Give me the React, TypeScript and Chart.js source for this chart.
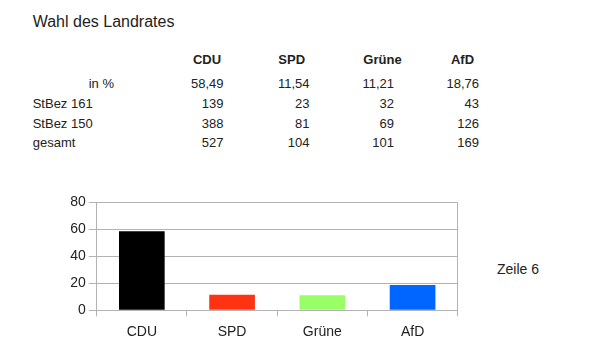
import React, { useEffect, useRef } from "react";
import { Chart, registerables } from "chart.js";

Chart.register(...registerables);

const title = "Wahl des Landrates";
const categories = ["CDU", "SPD", "Grüne", "AfD"];
const percentValues = [58.49, 11.54, 11.21, 18.76];
const rowLabels = ["in %", "StBez 161", "StBez 150", "gesamt"];
const stbez161 = [139, 23, 32, 43];
const stbez150 = [388, 81, 69, 126];
const gesamt = [527, 104, 101, 169];
const barColors = ["#000000", "#ff3311", "#99ff66", "#0066ff"];
const seriesLabel = "Zeile 6";
const yMin = 0;
const yMax = 80;
const yStep = 20;

const FONT = '"Liberation Sans", Arial, sans-serif';
const TEXT = "#222222";
const GRID = "#b3b3b3";

// layout of the table (pixel positions, not data)
const colRight = [223.5, 309.5, 394, 479];
const headerCenter = [207, 291.7, 382.5, 462.5];
const rowTop = [76.5, 96.5, 116.5, 136];

const fmtPct = (v: number) => v.toFixed(2).replace(".", ",");

function T(props: { x: number; y: number; size: number; bold?: boolean; align?: "left" | "right" | "center"; children: React.ReactNode }) {
  const { x, y, size, bold, align = "left", children } = props;
  const w = 200;
  const left = align === "left" ? x : align === "right" ? x - w : x - w / 2;
  return (
    <div
      style={{
        position: "absolute",
        left,
        top: y,
        width: w,
        textAlign: align,
        fontFamily: FONT,
        fontSize: size,
        lineHeight: 1,
        fontWeight: bold ? "bold" : "normal",
        color: TEXT,
        whiteSpace: "nowrap",
      }}
    >
      {children}
    </div>
  );
}

export default function App() {
  const ref = useRef<HTMLCanvasElement | null>(null);

  useEffect(() => {
    if (!ref.current) return;
    const chart = new Chart(ref.current, {
      type: "bar",
      data: {
        labels: categories,
        datasets: [
          {
            label: seriesLabel,
            data: percentValues,
            backgroundColor: barColors,
            borderWidth: 0,
            barPercentage: 0.506,
            categoryPercentage: 1.0,
          },
        ],
      },
      options: {
        responsive: false,
        maintainAspectRatio: false,
        animation: false,
        layout: { padding: { top: 12.3, right: 12.3, left: 0, bottom: 0 } },
        plugins: { legend: { display: false }, tooltip: { enabled: false } },
        scales: {
          x: {
            offset: true,
            grid: {
              offset: true,
              drawOnChartArea: true,
              color: (c: any) => (c.index === undefined || c.index === 0 ? GRID : "rgba(0,0,0,0)"),
              tickColor: GRID,
              tickLength: 6,
            },
            border: { color: GRID },
            ticks: { color: TEXT, font: { family: FONT, size: 14 }, padding: 7 },
            afterFit: (s: any) => {
              s.height = 39.7;
            },
          },
          y: {
            min: yMin,
            max: yMax,
            ticks: { stepSize: yStep, color: TEXT, font: { family: FONT, size: 14 }, padding: 3 },
            grid: { color: GRID, tickLength: 8 },
            border: { color: GRID },
            afterFit: (s: any) => {
              s.width = 56.7;
            },
          },
        },
      },
    });
    return () => chart.destroy();
  }, []);

  const rows: (string | number)[][] = [
    percentValues.map(fmtPct),
    stbez161,
    stbez150,
    gesamt,
  ];

  return (
    <div style={{ position: "fixed", left: 0, top: 0, width: 600, height: 358, background: "#ffffff", overflow: "hidden" }}>
      <T x={32.7} y={13.5} size={16}>{title}</T>
      {categories.map((c, i) => (
        <T key={c} x={headerCenter[i]} y={53} size={13} bold align="center">{c}</T>
      ))}
      {rowLabels.map((l, r) =>
        r === 0 ? (
          <T key={l} x={114} y={rowTop[r]} size={13} align="right">{l}</T>
        ) : (
          <T key={l} x={32.7} y={rowTop[r]} size={13}>{l}</T>
        )
      )}
      {rows.map((row, r) =>
        row.map((v, i) => (
          <T key={r + "-" + i} x={colRight[i]} y={rowTop[r]} size={13} align="right">{String(v)}</T>
        ))
      )}
      <canvas ref={ref} width={430} height={160} style={{ position: "absolute", left: 40, top: 190, width: 430, height: 160 }} />
      <T x={497} y={261.5} size={14}>{seriesLabel}</T>
    </div>
  );
}
